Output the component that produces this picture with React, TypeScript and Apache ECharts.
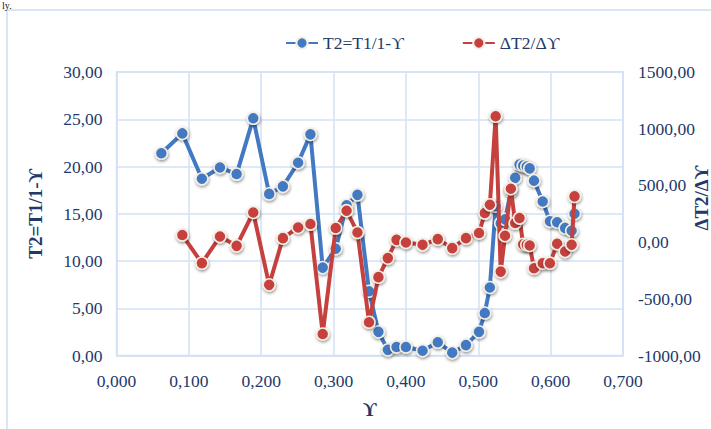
import React, { useEffect, useRef } from "react";
import * as echarts from "echarts";

// ϒ values (shared by both series)
const upsilon = [
  0.062, 0.091, 0.118, 0.143, 0.166, 0.189, 0.211, 0.23, 0.251, 0.268,
  0.285, 0.303, 0.318, 0.333, 0.349, 0.362, 0.375, 0.387, 0.4, 0.423,
  0.444, 0.464, 0.483, 0.501, 0.509, 0.516, 0.524, 0.531, 0.537, 0.545,
  0.551, 0.557, 0.562, 0.567, 0.571, 0.577, 0.589, 0.599, 0.609, 0.62,
  0.629, 0.633,
];

// T2 = T1/1-ϒ (left axis)
const t2Values = [
  21.4, 23.5, 18.7, 19.9, 19.2, 25.1, 17.1, 17.9, 20.4, 23.4,
  9.3, 11.3, 15.9, 17.0, 6.8, 2.5, 0.6, 0.9, 0.9, 0.5,
  1.4, 0.3, 1.1, 2.5, 4.5, 7.2, 15.8, 14.0, 14.4, 17.4,
  18.8, 20.2, 20.1, 20.0, 19.8, 18.5, 16.3, 14.2, 14.1, 13.5,
  13.2, 15.0,
];

// ΔT2/Δϒ (right axis); no value for the first point
const dT2Values: (number | null)[] = [
  null, 62, -185, 49, -33, 261, -377, 35, 129, 159,
  -810, 124, 277, 85, -707, -309, -141, 20, -3, -24,
  26, -53, 35, 80, 256, 329, 1110, -260, 56, 471,
  168, 212, -20, -24, -30, -230, -186, -186, -15, -83,
  -24, 403,
];

const leftTicks = { min: 0, max: 30, interval: 5 };
const rightTicks = { min: -1000, max: 1500, interval: 500 };
const xTicks = { min: 0, max: 0.7, interval: 0.1 };

const FONT = "'Liberation Serif', 'Times New Roman', serif";
const TEXT = "#22396a";
const GRID_LINE = "#d3e2f4";
const BLUE = "#4279c2";
const RED = "#c6403d";

const markerStyle = (color: string) => ({
  color,
  borderColor: "#f4efe4",
  borderWidth: 1.5,
  shadowBlur: 3,
  shadowColor: "rgba(0,0,0,0.45)",
  shadowOffsetX: 0.5,
  shadowOffsetY: 1.5,
});

export default function App() {
  const ref = useRef<HTMLDivElement>(null);

  useEffect(() => {
    if (!ref.current) return;
    const chart = echarts.init(ref.current, null, { renderer: "svg" });

    const t2Data = upsilon.map((x, i) => [x, t2Values[i]]);
    const dData = upsilon
      .map((x, i) => [x, dT2Values[i]])
      .filter((p) => p[1] !== null);

    chart.setOption({
      animation: false,
      backgroundColor: "#ffffff",
      textStyle: { fontFamily: FONT },
      grid: {
        left: 116.5,
        right: 88,
        top: 72,
        bottom: 73.5,
        show: true,
        borderColor: GRID_LINE,
        borderWidth: 1.5,
        outerBoundsMode: "none",
      },
      legend: {
        left: 280,
        top: 29,
        itemGap: 58,
        itemWidth: 32,
        itemHeight: 14,
        textStyle: { fontFamily: FONT, fontSize: 17.5, color: TEXT },
        data: ["T2=T1/1-ϒ", "ΔT2/Δϒ"],
      },
      xAxis: {
        type: "value",
        ...xTicks,
        name: "ϒ",
        nameLocation: "middle",
        nameGap: 44,
        nameTextStyle: { fontFamily: FONT, fontSize: 19, fontWeight: "bold", color: TEXT },
        axisLine: { show: true, lineStyle: { color: GRID_LINE, width: 1.5 } },
        axisTick: { show: false },
        splitLine: { show: true, lineStyle: { color: GRID_LINE, width: 1.5 } },
        axisLabel: {
          margin: 16,
          fontFamily: FONT,
          fontSize: 17.5,
          color: TEXT,
          formatter: (v: number) => v.toFixed(3).replace(".", ","),
        },
      },
      yAxis: [
        {
          type: "value",
          position: "left",
          ...leftTicks,
          name: "T2=T1/1-ϒ",
          nameLocation: "middle",
          nameGap: 72,
          nameRotate: 90,
          nameTextStyle: { fontFamily: FONT, fontSize: 19, fontWeight: "bold", color: TEXT },
          axisLine: { show: true, lineStyle: { color: GRID_LINE, width: 1.5 } },
          axisTick: { show: false },
          splitLine: { show: true, lineStyle: { color: GRID_LINE, width: 1.5 } },
          axisLabel: {
            margin: 14,
            fontFamily: FONT,
            fontSize: 17.5,
            color: TEXT,
            formatter: (v: number) => v.toFixed(2).replace(".", ","),
          },
        },
        {
          type: "value",
          position: "right",
          ...rightTicks,
          axisLine: { show: true, lineStyle: { color: GRID_LINE, width: 1.5 } },
          axisTick: { show: false },
          splitLine: { show: false },
          axisLabel: {
            margin: 15,
            fontFamily: FONT,
            fontSize: 17.5,
            color: TEXT,
            formatter: (v: number) => v.toFixed(2).replace(".", ","),
          },
        },
      ],
      graphic: [
        {
          type: "rect",
          shape: { x: 7, y: 10, width: 740, height: 440 },
          style: { fill: "none", stroke: "#d9e6f4", lineWidth: 2 },
          silent: true,
          z: -1,
        },
        {
          type: "text",
          x: 2,
          y: 0,
          style: { text: "ly.", font: `10px ${FONT}`, fill: "#111" },
        },
        {
          type: "text",
          x: 701,
          y: 198,
          rotation: Math.PI / 2,
          style: {
            text: "ΔT2/Δϒ",
            font: `bold 19px ${FONT}`,
            fill: TEXT,
            align: "center",
            verticalAlign: "middle",
          },
        },
      ],
      series: [
        {
          name: "T2=T1/1-ϒ",
          type: "line",
          yAxisIndex: 0,
          data: t2Data,
          symbol: "circle",
          symbolSize: 12,
          lineStyle: { color: BLUE, width: 4 },
          itemStyle: markerStyle(BLUE),
          z: 2,
        },
        {
          name: "ΔT2/Δϒ",
          type: "line",
          yAxisIndex: 1,
          data: dData,
          symbol: "circle",
          symbolSize: 12,
          lineStyle: { color: RED, width: 4 },
          itemStyle: markerStyle(RED),
          z: 3,
        },
      ],
    });

    return () => chart.dispose();
  }, []);

  return (
    <div
      ref={ref}
      style={{ position: "absolute", left: 0, top: 0, width: 711, height: 429 }}
    />
  );
}
